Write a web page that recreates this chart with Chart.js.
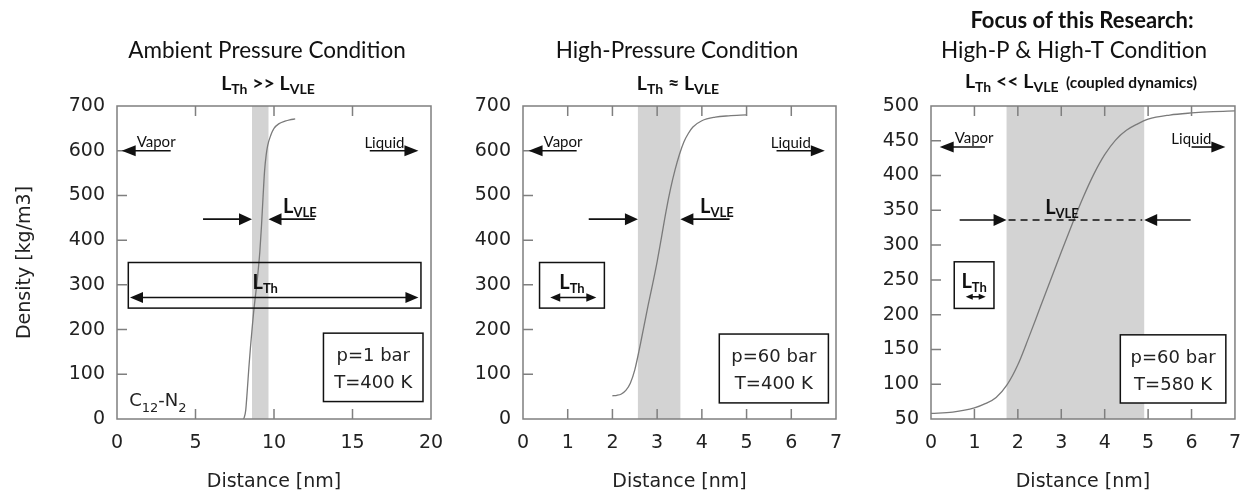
<!DOCTYPE html>
<html>
<head>
<meta charset="utf-8">
<script src="https://cdn.jsdelivr.net/npm/chart.js@4.4.1/dist/chart.umd.min.js"></script>
<style>
  html, body { margin: 0; padding: 0; background: #fff; }
  #wrap { position: relative; width: 1254px; height: 495px; overflow: hidden; }
  #wrap canvas { position: absolute; top: 0; }
</style>
</head>
<body>
<div id="wrap">
  <canvas id="ambient" style="left:0px" width="460" height="495"></canvas>
  <canvas id="highP" style="left:440px" width="420" height="495"></canvas>
  <canvas id="highPT" style="left:850px" width="404" height="495"></canvas>
</div>
<script>
// density profiles across the vapor-liquid interface
const ambientDistance = [8.05, 8.1, 8.2, 8.3, 8.4, 8.5, 8.6, 8.7, 8.8, 8.9, 9.0, 9.1, 9.2, 9.3, 9.4, 9.5, 9.6, 9.8, 10.0, 10.3, 10.7, 11.0, 11.35];
const ambientDensity = [0, 3, 20, 65, 115, 160, 200, 238, 270, 300, 335, 375, 430, 495, 555, 590, 612, 635, 650, 660, 666, 669, 671];

const highPDistance = [2.0, 2.1, 2.2, 2.3, 2.4, 2.5, 2.6, 2.7, 2.8, 2.9, 3.0, 3.1, 3.2, 3.3, 3.4, 3.5, 3.6, 3.7, 3.8, 4.0, 4.3, 4.6, 5.0];
const highPDensity = [52, 53, 56, 64, 80, 110, 155, 205, 255, 302, 352, 408, 465, 515, 557, 592, 620, 639, 653, 667, 675, 678, 680];

const highPTDistance = [0, 0.5, 1.0, 1.25, 1.5, 1.75, 2.0, 2.25, 2.5, 2.75, 3.0, 3.25, 3.5, 3.75, 4.0, 4.25, 4.5, 4.75, 5.0, 5.5, 6.0, 6.5, 7.0];
const highPTDensity = [58, 60, 66, 72, 81, 99, 128, 167, 208, 249, 290, 330, 368, 402, 430, 451, 465, 474, 481, 487, 490, 492, 493];

// interface thickness L_VLE (shaded)
const ambientBand = [8.6, 9.65];
const highPBand = [2.57, 3.52];
const highPTBand = [1.74, 4.91];

// tick values
const ticksX20 = [0, 5, 10, 15, 20];
const ticksX7 = [0, 1, 2, 3, 4, 5, 6, 7];
const ticksY700 = [0, 100, 200, 300, 400, 500, 600, 700];
const ticksY500 = [50, 100, 150, 200, 250, 300, 350, 400, 450, 500];

const AXIS_FONT = 'DejaVu Sans';
const LABEL_FONT = 'Lato';
const FRAME = '#7f7f7f';

function richText(ctx, parts, x, y, align) {
  let w = 0;
  parts.forEach(p => {
    ctx.font = (p.bold ? 'bold ' : '') + p.size + 'px ' + (p.family || LABEL_FONT);
    p.w = ctx.measureText(p.text).width;
    w += p.w;
  });
  let cx = align === 'center' ? x - w / 2 : align === 'right' ? x - w : x;
  ctx.textAlign = 'left';
  ctx.textBaseline = 'alphabetic';
  parts.forEach(p => {
    ctx.font = (p.bold ? 'bold ' : '') + p.size + 'px ' + (p.family || LABEL_FONT);
    ctx.fillText(p.text, cx, y + (p.sub ? p.sub : 0));
    cx += p.w;
  });
}

function arrowHead(ctx, tipX, y, dir, len, wid) {
  ctx.beginPath();
  ctx.moveTo(tipX, y);
  ctx.lineTo(tipX - dir * len, y - wid / 2);
  ctx.lineTo(tipX - dir * len, y + wid / 2);
  ctx.closePath();
  ctx.fill();
}

function arrow(ctx, tailX, tipX, y, len, wid) {
  const dir = tipX > tailX ? 1 : -1;
  ctx.beginPath();
  ctx.moveTo(tailX, y);
  ctx.lineTo(tipX - dir * len * 0.6, y);
  ctx.stroke();
  arrowHead(ctx, tipX, y, dir, len, wid);
}

function lSub(sub, size, subSize) {
  return [
    { text: 'L', size: size, bold: true },
    { text: sub, size: subSize, bold: true, sub: Math.round(size * 0.2) }
  ];
}

const panelDecor = {
  id: 'panelDecor',
  beforeDatasetsDraw(chart, args, o) {
    const { ctx, chartArea: a, scales: { x } } = chart;
    const x0 = x.getPixelForValue(o.band[0]);
    const x1 = x.getPixelForValue(o.band[1]);
    ctx.save();
    ctx.fillStyle = '#d3d3d3';
    ctx.fillRect(x0, a.top, x1 - x0, a.bottom - a.top);
    ctx.restore();
  },
  afterDatasetsDraw(chart, args, o) {
    const { ctx, chartArea: a, scales: { x, y } } = chart;
    const px = v => x.getPixelForValue(v);
    const py = v => y.getPixelForValue(v);
    ctx.save();

    // inward ticks and frame
    ctx.strokeStyle = FRAME;
    ctx.lineWidth = 1.5;
    ctx.beginPath();
    o.xTicks.slice(1, -1).forEach(v => {
      const p = px(v);
      ctx.moveTo(p, a.bottom); ctx.lineTo(p, a.bottom - 10);
      ctx.moveTo(p, a.top); ctx.lineTo(p, a.top + 10);
    });
    o.yTicks.slice(1, -1).forEach(v => {
      const p = py(v);
      ctx.moveTo(a.left, p); ctx.lineTo(a.left + 10, p);
    });
    ctx.stroke();
    ctx.strokeRect(a.left, a.top, a.right - a.left, a.bottom - a.top);

    ctx.fillStyle = '#111';
    ctx.strokeStyle = '#111';
    ctx.lineWidth = 1.6;

    // vapor / liquid direction arrows
    const vy = py(o.phaseY);
    arrow(ctx, px(o.vapor[0]), px(o.vapor[1]), vy, 14, 11);
    arrow(ctx, px(o.liquid[0]), px(o.liquid[1]), vy, 14, 11);
    richText(ctx, [{ text: 'Vapor', size: 15 }], px(o.vapor[1]) + 15, vy - 4, 'left');
    richText(ctx, [{ text: 'Liquid', size: 15 }], px(o.liquid[1]) - 14, vy - 3, 'right');

    // L_VLE arrows pointing at the band edges
    const ly = py(o.vle.y);
    const b0 = px(o.band[0]), b1 = px(o.band[1]);
    arrow(ctx, px(o.vle.from), b0, ly, 13, 12);
    arrow(ctx, px(o.vle.to), b1, ly, 13, 12);
    if (o.vle.dashed) {
      ctx.save();
      ctx.setLineDash([7, 5]);
      ctx.beginPath();
      ctx.moveTo(b0 + 2, ly); ctx.lineTo(b1 - 2, ly);
      ctx.stroke();
      ctx.restore();
    }
    richText(ctx, lSub('VLE', 20, 13), px(o.vle.label), ly - 6, 'left');

    // L_Th box with double arrow
    const t = o.th;
    const tx0 = px(t.x0), tx1 = px(t.x1), ty0 = py(t.y1), ty1 = py(t.y0);
    ctx.lineWidth = 1.5;
    ctx.strokeRect(tx0, ty0, tx1 - tx0, ty1 - ty0);
    const lx = t.label !== undefined ? px(t.label) : (tx0 + tx1) / 2;
    richText(ctx, lSub('Th', 20, 13), lx, ty0 + 26, 'center');
    const ay = ty0 + 35;
    const ax0 = px(t.arrow[0]), ax1 = px(t.arrow[1]);
    ctx.lineWidth = 1.6;
    ctx.beginPath();
    ctx.moveTo(ax0 + t.head * 0.6, ay); ctx.lineTo(ax1 - t.head * 0.6, ay);
    ctx.stroke();
    arrowHead(ctx, ax0, ay, -1, t.head, t.head * 0.85);
    arrowHead(ctx, ax1, ay, 1, t.head, t.head * 0.85);

    // condition box
    const c = o.cond;
    const cx0 = px(c.x0), cx1 = px(c.x1), cy0 = py(c.y1), cy1 = py(c.y0);
    ctx.fillStyle = '#fff';
    ctx.fillRect(cx0, cy0, cx1 - cx0, cy1 - cy0);
    ctx.lineWidth = 1.5;
    ctx.strokeRect(cx0, cy0, cx1 - cx0, cy1 - cy0);
    ctx.fillStyle = '#222';
    c.lines.forEach((line, i) => {
      richText(ctx, [{ text: line, size: 18, family: AXIS_FONT }], (cx0 + cx1) / 2, cy0 + 28 + i * 27, 'center');
    });

    // species label
    if (o.species) {
      const s = o.species;
      richText(ctx, [
        { text: 'C', size: 18, family: AXIS_FONT },
        { text: '12', size: 13, family: AXIS_FONT, sub: 6 },
        { text: '-N', size: 18, family: AXIS_FONT },
        { text: '2', size: 13, family: AXIS_FONT, sub: 6 }
      ], px(s.x), py(s.y), 'left');
    }

    // headings above the plot
    ctx.fillStyle = '#111';
    o.heading.forEach(h => richText(ctx, h.parts, h.x, h.y, 'center'));
    ctx.restore();
  }
};

function makePanel(id, cfg) {
  const points = cfg.dist.map((d, i) => ({ x: d, y: cfg.dens[i] }));
  return new Chart(document.getElementById(id), {
    type: 'scatter',
    data: {
      datasets: [{
        data: points,
        showLine: true,
        borderColor: '#7a7a7a',
        borderWidth: 1.3,
        pointRadius: 0,
        cubicInterpolationMode: 'monotone'
      }]
    },
    options: {
      responsive: false,
      animation: false,
      devicePixelRatio: 1,
      layout: { padding: { left: 0, right: cfg.padRight, top: 106, bottom: 0 } },
      plugins: {
        legend: { display: false },
        tooltip: { enabled: false },
        panelDecor: cfg.decor
      },
      scales: {
        x: {
          type: 'linear',
          min: cfg.xTicks[0],
          max: cfg.xTicks[cfg.xTicks.length - 1],
          afterBuildTicks: s => { s.ticks = cfg.xTicks.map(v => ({ value: v })); },
          afterFit: s => { s.height = 76; },
          grid: { display: false, drawTicks: false },
          border: { display: false },
          ticks: { font: { family: AXIS_FONT, size: 19 }, color: '#222', padding: 13, maxRotation: 0, autoSkip: false },
          title: { display: true, text: 'Distance [nm]', font: { family: AXIS_FONT, size: 19 }, color: '#222', padding: { bottom: 2 } }
        },
        y: {
          type: 'linear',
          min: cfg.yTicks[0],
          max: cfg.yTicks[cfg.yTicks.length - 1],
          afterBuildTicks: s => { s.ticks = cfg.yTicks.map(v => ({ value: v })); },
          afterFit: s => { s.width = cfg.yWidth; },
          grid: { display: false, drawTicks: false },
          border: { display: false },
          ticks: { font: { family: AXIS_FONT, size: 19 }, color: '#222', padding: 12, autoSkip: false },
          title: { display: !!cfg.yTitle, text: cfg.yTitle || '', font: { family: AXIS_FONT, size: 19 }, color: '#222', padding: { top: 14 } }
        }
      }
    },
    plugins: [panelDecor]
  });
}

makePanel('ambient', {
  dist: ambientDistance, dens: ambientDensity,
  xTicks: ticksX20, yTicks: ticksY700,
  yWidth: 117, padRight: 29, yTitle: 'Density [kg/m3]',
  decor: {
    band: ambientBand, xTicks: ticksX20, yTicks: ticksY700,
    phaseY: 600, vapor: [3.42, 0.3], liquid: [16.1, 19.2],
    vle: { y: 447, from: 5.48, to: 12.6, label: 10.58 },
    th: { x0: 0.72, x1: 19.36, y0: 248, y1: 350, label: 9.44, arrow: [0.83, 19.2], head: 13 },
    cond: { x0: 13.15, x1: 19.49, y0: 39, y1: 192, lines: ['p=1 bar', 'T=400 K'] },
    species: { x: 0.78, y: 30 },
    heading: [
      { x: 267, y: 58, parts: [{ text: 'Ambient Pressure Condition', size: 22.5 }] },
      { x: 268, y: 90, parts: [...lSub('Th', 19.5, 14), { text: ' >> ', size: 19.5, bold: true }, ...lSub('VLE', 19.5, 14)] }
    ]
  }
});

makePanel('highP', {
  dist: highPDistance, dens: highPDensity,
  xTicks: ticksX7, yTicks: ticksY700,
  yWidth: 83, padRight: 24,
  decor: {
    band: highPBand, xTicks: ticksX7, yTicks: ticksY700,
    phaseY: 600, vapor: [1.2, 0.125], liquid: [5.67, 6.75],
    vle: { y: 447, from: 1.47, to: 4.62, label: 3.96 },
    th: { x0: 0.37, x1: 1.82, y0: 248, y1: 350, arrow: [0.61, 1.64], head: 10 },
    cond: { x0: 4.39, x1: 6.83, y0: 36, y1: 190, lines: ['p=60 bar', 'T=400 K'] },
    heading: [
      { x: 237, y: 58, parts: [{ text: 'High-Pressure Condition', size: 22.5 }] },
      { x: 238, y: 90, parts: [...lSub('Th', 19.5, 14), { text: ' \u2248 ', size: 19.5, bold: true }, ...lSub('VLE', 19.5, 14)] }
    ]
  }
});

makePanel('highPT', {
  dist: highPTDistance, dens: highPTDensity,
  xTicks: ticksX7, yTicks: ticksY500,
  yWidth: 81, padRight: 9,
  decor: {
    band: highPTBand, xTicks: ticksX7, yTicks: ticksY500,
    phaseY: 441, vapor: [1.24, 0.2], liquid: [6.0, 6.78],
    vle: { y: 336, from: 0.66, to: 5.98, label: 2.63, dashed: true },
    th: { x0: 0.535, x1: 1.45, y0: 209, y1: 276, arrow: [0.8, 1.26], head: 7 },
    cond: { x0: 4.36, x1: 6.79, y0: 73, y1: 171, lines: ['p=60 bar', 'T=580 K'] },
    heading: [
      { x: 232, y: 28, parts: [{ text: 'Focus of this Research:', size: 22, bold: true }] },
      { x: 224, y: 58, parts: [{ text: 'High-P & High-T Condition', size: 22.5 }] },
      { x: 231, y: 88, parts: [...lSub('Th', 19.5, 14), { text: ' << ', size: 19.5, bold: true }, ...lSub('VLE', 19.5, 14), { text: '  (coupled dynamics)', size: 15.5, bold: true }] }
    ]
  }
});
</script>
</body>
</html>
